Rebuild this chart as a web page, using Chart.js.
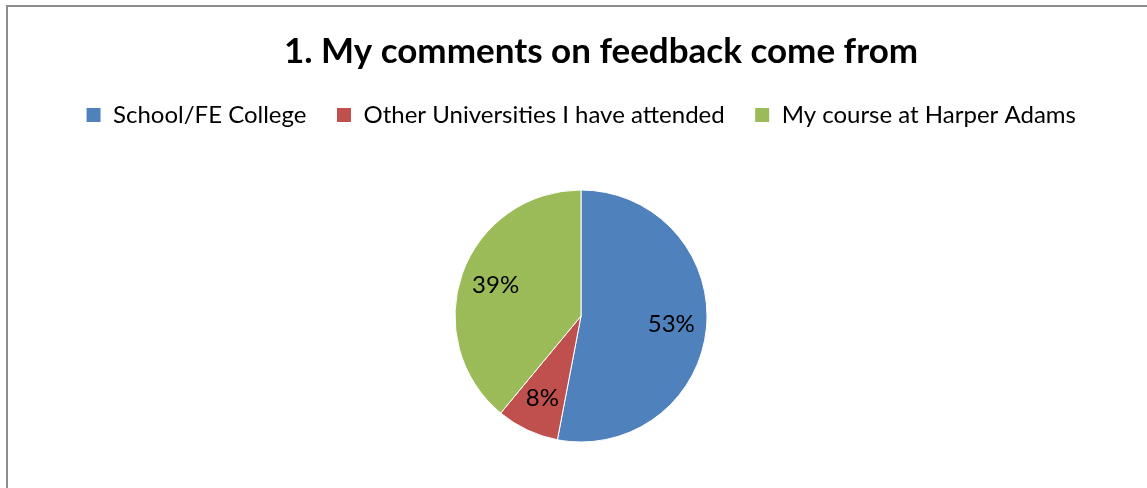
<!DOCTYPE html>
<html>
<head>
<meta charset="utf-8">
<script src="https://cdn.jsdelivr.net/npm/chart.js"></script>
<style>
  html, body { margin: 0; padding: 0; background: #fff; overflow: hidden; }
  #frame {
    position: absolute; left: 6px; top: 5px;
    width: 1150px; height: 500px;
    border: 2px solid #8c8c8c;
    background: #fff;
  }
</style>
</head>
<body>
<div id="frame"><canvas id="myChart"></canvas></div>
<script>
// survey answers, share of respondents
const labels = ['School/FE College', 'Other Universities I have attended', 'My course at Harper Adams'];
const shares = [53, 8, 39];
const colours = ['#4f81bd', '#c0504d', '#9bbb59'];

const FONT = "Lato, 'Open Sans', sans-serif";

// percentage text inside each slice
const sliceLabels = {
  id: 'sliceLabels',
  afterDatasetsDraw(chart) {
    const ctx = chart.ctx;
    const meta = chart.getDatasetMeta(0);
    const total = shares.reduce((a, b) => a + b, 0);
    ctx.save();
    ctx.fillStyle = '#000';
    ctx.font = "24px " + FONT;
    ctx.textAlign = 'center';
    ctx.textBaseline = 'middle';
    meta.data.forEach((arc, i) => {
      const p = arc.getProps(['x', 'y', 'startAngle', 'endAngle', 'outerRadius'], true);
      const mid = (p.startAngle + p.endAngle) / 2;
      const r = p.outerRadius * 0.72;
      ctx.fillText(Math.round(shares[i] / total * 100) + '%', p.x + Math.cos(mid) * r, p.y + Math.sin(mid) * r);
    });
    ctx.restore();
  }
};

// title sits a little right of the chart centre
const nudgeTitle = {
  id: 'nudgeTitle',
  afterLayout(chart) {
    if (chart.titleBlock) {
      chart.titleBlock.left += 20;
      chart.titleBlock.right += 20;
    }
  }
};

const config = {
  type: 'pie',
  data: {
    labels: labels,
    datasets: [{
      data: shares,
      backgroundColor: colours,
      borderColor: '#ffffff',
      borderWidth: 1,
      radius: 126
    }]
  },
  options: {
    responsive: true,
    maintainAspectRatio: false,
    animation: false,
    layout: { padding: { top: 0, bottom: 12, right: 4 } },
    plugins: {
      title: {
        display: true,
        text: '1. My comments on feedback come from',
        color: '#000',
        font: { family: FONT, size: 35, weight: 'bold' },
        padding: { top: 24, bottom: 0 }
      },
      legend: {
        position: 'top',
        labels: {
          color: '#000',
          font: { family: FONT, size: 24 },
          boxWidth: 15,
          boxHeight: 15,
          padding: 30
        }
      },
      tooltip: { enabled: false }
    }
  },
  plugins: [sliceLabels, nudgeTitle]
};

new Chart(document.getElementById('myChart'), config);
</script>
</body>
</html>
